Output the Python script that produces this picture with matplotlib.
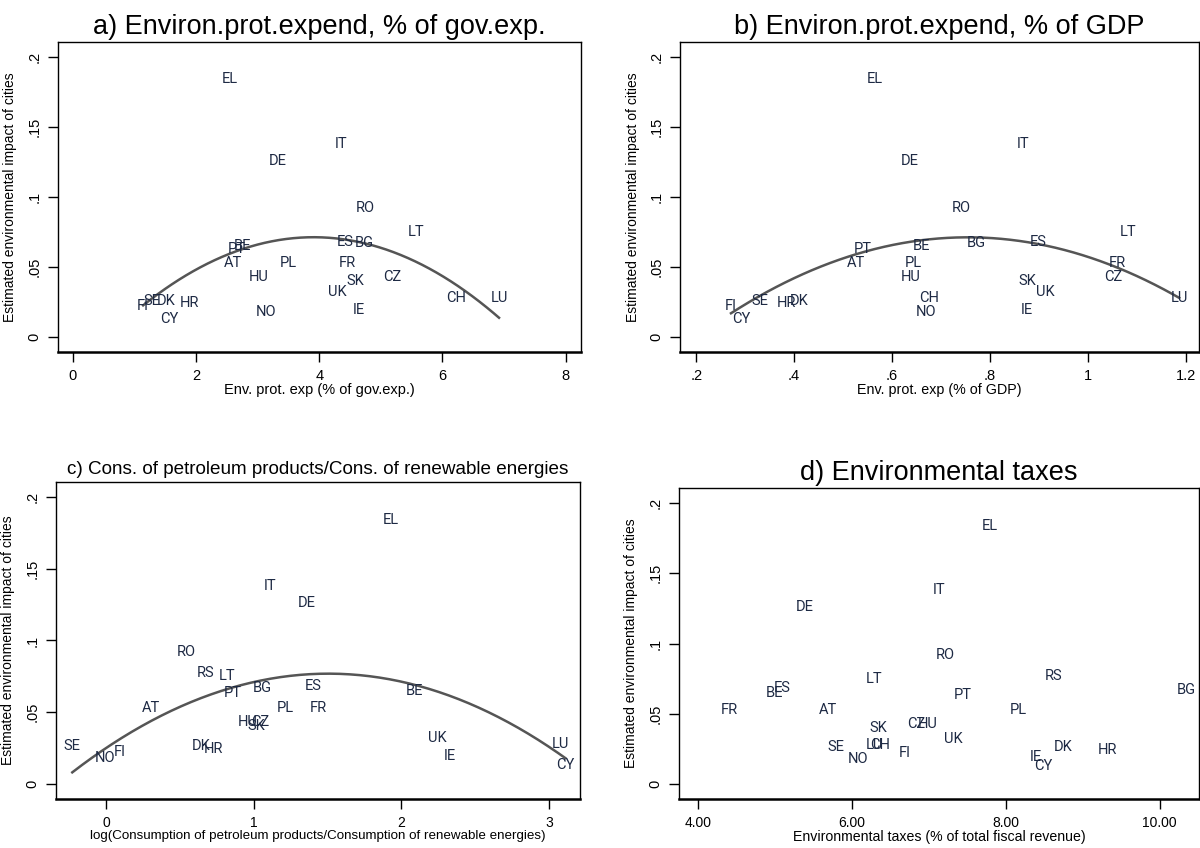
import numpy as np
import matplotlib
matplotlib.use("Agg")
import matplotlib.pyplot as plt

nan = np.nan
# country codes and estimated environmental impact of cities (y, shared by all panels)
countries = ["EL", "IT", "DE", "RO", "RS", "LT", "ES", "BG", "BE", "PT", "FR", "AT", "PL",
             "HU", "CZ", "SK", "UK", "CH", "LU", "DK", "SE", "HR", "FI", "IE", "NO", "CY"]
impact = [0.184, 0.138, 0.126, 0.092, 0.077, 0.075, 0.068, 0.067, 0.065, 0.063, 0.053, 0.053, 0.053,
          0.043, 0.043, 0.040, 0.032, 0.028, 0.028, 0.026, 0.026, 0.024, 0.022, 0.019, 0.018, 0.013]
# x variables, one per panel (nan = country not shown)
gov_exp = [2.55, 4.35, 3.33, 4.74, nan, 5.58, 4.42, 4.74, 2.76, 2.66, 4.45, 2.60, 3.49,
           3.02, 5.19, 4.58, 4.29, 6.22, 6.92, 1.51, 1.28, 1.90, 1.14, 4.64, 3.13, 1.56]
gdp_exp = [0.565, 0.867, 0.636, 0.742, nan, 1.082, 0.898, 0.772, 0.660, 0.541, 1.060, 0.527, 0.644,
           0.638, 1.052, 0.875, 0.912, 0.675, 1.186, 0.411, 0.330, 0.385, 0.271, 0.875, 0.669, 0.291]
petro_ren = [1.93, 1.11, 1.36, 0.54, 0.67, 0.82, 1.40, 1.06, 2.09, 0.855, 1.44, 0.305, 1.21,
             0.96, 1.04, 1.02, 2.24, nan, 3.08, 0.64, -0.23, 0.725, 0.09, 2.33, -0.01, 3.11]
env_tax = [7.79, 7.13, 5.38, 7.21, 8.62, 6.29, 5.09, 10.34, 4.99, 7.44, 4.40, 5.69, 8.16,
           6.99, 6.84, 6.34, 7.32, 6.36, 6.29, 8.75, 5.79, 9.32, 6.68, 8.39, 6.08, 8.48]

ytick_vals = [0, 0.05, 0.1, 0.15, 0.2]
ytick_labs = ["0", ".05", ".1", ".15", ".2"]

panels = [
    dict(x=gov_exp, title="a) Environ.prot.expend, % of gov.exp.", tsize=19.5,
         xlabel="Env. prot. exp (% of gov.exp.)", xlsize=10.5, xticks=[0, 2, 4, 6, 8],
         xlabs=["0", "2", "4", "6", "8"], xlim=(-0.243, 8.25), fit=True, tick_size=10.5,
         pos=[0.0483, 0.5849, 0.4358, 0.3656]),
    dict(x=gdp_exp, title="b) Environ.prot.expend, % of GDP", tsize=19.5,
         xlabel="Env. prot. exp (% of GDP)", xlsize=10.3, xticks=[0.2, 0.4, 0.6, 0.8, 1.0, 1.2],
         xlabs=[".2", ".4", ".6", ".8", "1", "1.2"], xlim=(0.167, 1.2265), fit=True, tick_size=10.5,
         pos=[0.5667, 0.5849, 0.4325, 0.3656]),
    dict(x=petro_ren, title="c) Cons. of petroleum products/Cons. of renewable energies", tsize=13.6,
         xlabel="log(Consumption of petroleum products/Consumption of renewable energies)", xlsize=9.6,
         xticks=[0, 1, 2, 3], xlabs=["0", "1", "2", "3"], xlim=(-0.34, 3.21), fit=True, tick_size=10,
         pos=[0.0467, 0.0578, 0.4367, 0.3738]),
    dict(x=env_tax, title="d) Environmental taxes", tsize=19.5,
         xlabel="Environmental taxes (% of total fiscal revenue)", xlsize=10.2,
         xticks=[4, 6, 8, 10], xlabs=["4.00", "6.00", "8.00", "10.00"], xlim=(3.75, 10.51), fit=False,
         tick_size=10, pos=[0.5658, 0.0578, 0.4333, 0.3667]),
]

plt.rcParams['font.family'] = ['Liberation Sans', 'DejaVu Sans']
fig = plt.figure(figsize=(12, 8.48), dpi=100, facecolor='white')

y_all = np.array(impact)
for p in panels:
    ax = fig.add_axes(p["pos"])
    xv = np.array(p["x"], dtype=float)
    ok = ~np.isnan(xv)
    for name, xi, yi in zip(np.array(countries)[ok], xv[ok], y_all[ok]):
        ax.text(xi, yi, name, ha='center', va='center', fontsize=10.5,
                color='#1e2a44', family=['Roboto', 'DejaVu Sans'])
    if p["fit"]:
        # quadratic fit of impact on the panel's x variable
        coef = np.polyfit(xv[ok], y_all[ok], 2)
        xs = np.linspace(xv[ok].min(), xv[ok].max(), 200)
        ax.plot(xs, np.polyval(coef, xs), color='#555555', lw=1.8)
    ax.set_xlim(*p["xlim"])
    ax.set_ylim(-0.0107, 0.2107)
    ax.set_xticks(p["xticks"])
    ax.set_xticklabels(p["xlabs"], fontsize=p["tick_size"])
    ax.set_yticks(ytick_vals)
    ax.set_yticklabels(ytick_labs, rotation=90, va='center', fontsize=10.5)
    ax.tick_params(axis='both', direction='out', length=7, width=1, pad=5)
    for s in ax.spines.values():
        s.set_linewidth(1.0)
    ax.spines['bottom'].set_linewidth(1.8)
    ax.set_xlabel(p["xlabel"], fontsize=p["xlsize"], labelpad=0)
    ax.set_ylabel("Estimated environmental impact of cities", fontsize=10)
    ax.yaxis.set_label_coords(-0.078, 0.5)
    ax.set_title(p["title"], fontsize=p["tsize"], pad=6)

fig.savefig("out.png", dpi=100, facecolor='white')
